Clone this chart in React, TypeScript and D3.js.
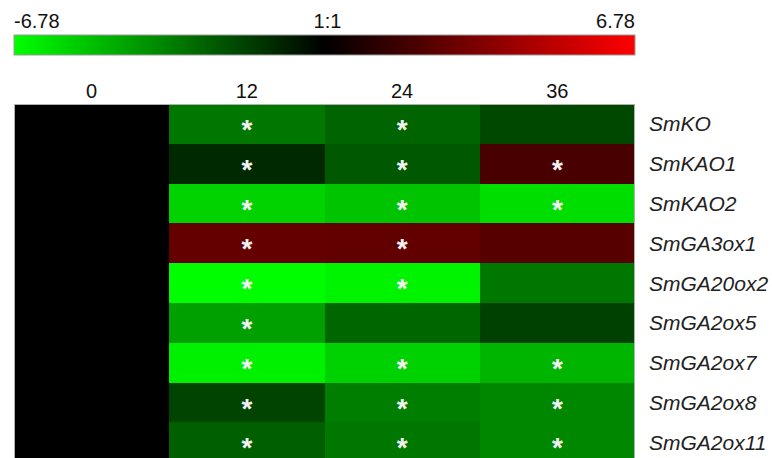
import { useEffect, useRef } from "react";
import * as d3 from "d3";

const timePoints = ["0", "12", "24", "36"];
const genes = [
  "SmKO",
  "SmKAO1",
  "SmKAO2",
  "SmGA3ox1",
  "SmGA20ox2",
  "SmGA2ox5",
  "SmGA2ox7",
  "SmGA2ox8",
  "SmGA2ox11",
];
// log2 fold change vs 0 h, one row per gene, columns = timePoints
const values = [
  [0, -3.2, -2.65, -1.9],
  [0, -1.1, -2.35, 1.95],
  [0, -5.6, -5.2, -5.9],
  [0, 2.65, 2.6, 2.3],
  [0, -6.75, -6.5, -3.2],
  [0, -4.25, -2.75, -1.7],
  [0, -6.4, -5.55, -4.8],
  [0, -1.8, -3.35, -3.6],
  [0, -2.55, -3.2, -3.6],
];
// significance marks (1 = asterisk)
const signif = [
  [0, 1, 1, 0],
  [0, 1, 1, 1],
  [0, 1, 1, 1],
  [0, 1, 1, 0],
  [0, 1, 1, 0],
  [0, 1, 0, 0],
  [0, 1, 1, 1],
  [0, 1, 1, 1],
  [0, 1, 1, 1],
];
const scaleLabels = ["-6.78", "1:1", "6.78"];
const limit = 6.78;

const width = 772;
const height = 458;
const font = "'Liberation Sans', Arial, sans-serif";

export default function App() {
  const ref = useRef<HTMLDivElement | null>(null);

  useEffect(() => {
    if (!ref.current) return;
    d3.select(ref.current).selectAll("svg").remove();

    const svg = d3
      .select(ref.current)
      .append("svg")
      .attr("width", width)
      .attr("height", height)
      .style("display", "block");

    const left = 14;
    const right = 635;
    const top = 104;
    const rowH = 39.8;
    const bottom = top + rowH * genes.length;

    const color = d3
      .scaleLinear<string>()
      .domain([-limit, 0, limit])
      .range(["#00ff00", "#000000", "#ff0000"]);

    const x = d3.scaleBand().domain(timePoints).range([left, right]);
    const y = d3.scaleBand().domain(genes).range([top, bottom]);

    // integer cell edges so neighbouring cells meet without seams
    const x0 = (j: number) => Math.round(x(timePoints[j])!);
    const x1 = (j: number) => (j + 1 < timePoints.length ? x0(j + 1) : right);
    const y0 = (i: number) => Math.round(y(genes[i])!);
    const y1 = (i: number) => (i + 1 < genes.length ? y0(i + 1) : Math.round(bottom));

    // colour key
    const grad = svg
      .append("defs")
      .append("linearGradient")
      .attr("id", "key");
    d3.range(0, 1.0001, 0.05).forEach((t) => {
      grad
        .append("stop")
        .attr("offset", t)
        .attr("stop-color", color(-limit + 2 * limit * t));
    });
    svg
      .append("rect")
      .attr("x", left)
      .attr("y", 35)
      .attr("width", right - left)
      .attr("height", 20)
      .attr("fill", "url(#key)")
      .attr("stroke", "#9a9a9a")
      .attr("stroke-width", 1);

    const keyX = d3.scalePoint().domain(scaleLabels).range([left, right]);
    svg
      .selectAll(".keylab")
      .data(scaleLabels)
      .enter()
      .append("text")
      .attr("x", (d, i) => keyX(d)! + (i === 1 ? 3 : 0))
      .attr("y", 28)
      .attr("text-anchor", (d, i) => (i === 0 ? "start" : i === 2 ? "end" : "middle"))
      .attr("font-family", font)
      .attr("font-size", 20)
      .attr("fill", "#111")
      .text((d) => d);

    // column labels
    svg
      .selectAll(".collab")
      .data(timePoints)
      .enter()
      .append("text")
      .attr("x", (d) => x(d)! + x.bandwidth() / 2)
      .attr("y", 98)
      .attr("text-anchor", "middle")
      .attr("font-family", font)
      .attr("font-size", 20)
      .attr("fill", "#111")
      .text((d) => d);

    // cells
    const rows = svg
      .selectAll(".row")
      .data(values)
      .enter()
      .append("g")
      .attr("transform", (_, i) => `translate(0,${y0(i)})`);

    rows
      .selectAll("rect")
      .data((d, i) => d.map((v, j) => ({ v, i, j })))
      .enter()
      .append("rect")
      .attr("x", (d) => x0(d.j))
      .attr("width", (d) => x1(d.j) - x0(d.j))
      .attr("height", (d) => y1(d.i) - y0(d.i))
      .attr("shape-rendering", "crispEdges")
      .attr("fill", (d) => color(d.v));

    rows
      .selectAll(".star")
      .data((_, i) => signif[i].map((s, j) => ({ s, j })).filter((d) => d.s))
      .enter()
      .append("text")
      .attr("x", (d) => x(timePoints[d.j])! + x.bandwidth() / 2)
      .attr("y", y.bandwidth() / 2 + 15.5)
      .attr("text-anchor", "middle")
      .attr("font-family", font)
      .attr("font-size", 28)
      .attr("font-weight", "bold")
      .attr("fill", "#f2f2f2")
      .text("*");

    // border
    svg
      .append("rect")
      .attr("x", left + 0.5)
      .attr("y", top + 0.5)
      .attr("width", right - left - 1)
      .attr("height", rowH * genes.length)
      .attr("fill", "none")
      .attr("stroke", "#b0b0b0")
      .attr("stroke-width", 1);

    // gene labels
    svg
      .selectAll(".genelab")
      .data(genes)
      .enter()
      .append("text")
      .attr("x", 649)
      .attr("y", (d) => y(d)! + y.bandwidth() / 2 + 7.5)
      .attr("font-family", font)
      .attr("font-size", 21)
      .attr("font-style", "italic")
      .attr("fill", "#222")
      .text((d) => d);
  }, []);

  return (
    <div
      ref={ref}
      style={{ position: "absolute", left: 0, top: 0, width, height, overflow: "hidden" }}
    />
  );
}
